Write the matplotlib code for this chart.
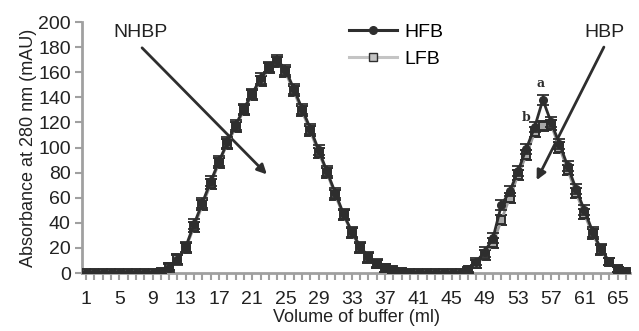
import matplotlib
matplotlib.use("Agg")
import matplotlib.pyplot as plt
from matplotlib.ticker import MultipleLocator, FixedLocator

plt.rcParams['font.family'] = ['Liberation Sans', 'DejaVu Sans']

# fraction number (1 ml each)
fractions = list(range(1, 67))

hfb = [0, 0, 0, 0, 0, 0, 0, 0, 0, 1,
       4, 10, 21, 39, 56, 73, 89, 104, 118, 131,
       143, 155, 164, 170, 162, 147, 131, 115, 98, 81,
       64, 47, 33, 21, 13, 8, 4, 2, 1, 0,
       0, 0, 0, 0, 0, 0, 3, 9, 17, 28,
       54, 65, 81, 99, 116, 138, 120, 103, 85, 67,
       50, 33, 19, 9, 3, 1]
lfb = [0, 0, 0, 0, 0, 0, 0, 0, 0, 1,
       5, 11, 20, 37, 54, 71, 88, 103, 116, 130,
       142, 153, 163, 168, 160, 145, 129, 113, 96, 80,
       62, 46, 32, 20, 12, 7, 4, 2, 1, 0,
       0, 0, 0, 0, 0, 0, 2, 7, 14, 24,
       42, 60, 78, 94, 112, 117, 118, 100, 82, 64,
       47, 31, 18, 9, 3, 1]
hfb_err = [1, 1, 1, 1, 1, 1, 1, 1, 1, 2,
           3, 4, 4, 4, 4, 4, 4, 4, 4, 4,
           4, 4, 4, 4, 4, 4, 4, 4, 4, 4,
           4, 4, 4, 4, 4, 3, 3, 2, 1, 1,
           1, 1, 1, 1, 1, 1, 2, 3, 4, 4,
           4, 4, 4, 4, 4, 4, 4, 4, 4, 4,
           4, 4, 4, 3, 2, 1]
lfb_err = hfb_err

xtick_labels = [str(v) for v in range(1, 67, 4)]

fig = plt.figure(figsize=(6.39, 3.31), dpi=100)
ax = fig.add_axes([0.1283, 0.1752, 0.986 - 0.1283, 0.9335 - 0.1752])

dark = '#2e2e2e'
light = '#9a9a9a'

ax.errorbar(fractions, lfb, yerr=lfb_err, color=light, lw=2,
            marker='s', ms=6, mfc='#a8a8a8', mec=dark, mew=1.4,
            ecolor=dark, elinewidth=1.3, capsize=4.5, capthick=1.3, zorder=3)
ax.errorbar(fractions, hfb, yerr=hfb_err, color=dark, lw=2,
            marker='o', ms=5.5, mfc=dark, mec=dark,
            ecolor=dark, elinewidth=1.3, capsize=4.5, capthick=1.3, zorder=4)

# legend handles without error bars
h1, = ax.plot([], [], color=dark, lw=2.2, marker='o', ms=5.5, mfc=dark, mec=dark, label='HFB')
h2, = ax.plot([], [], color='#c4c4c4', lw=2.2, marker='s', ms=5.5, mfc='#c4c4c4', mec=dark, label='LFB')
ax.legend(handles=[h1, h2], loc='upper left', bbox_to_anchor=(0.455, 1.065),
          frameon=False, fontsize=14, handlelength=2.5, handletextpad=0.35,
          labelspacing=0.5)

ax.set_xlim(0.5, 66.5)
ax.set_ylim(0, 200)
ax.xaxis.set_major_locator(FixedLocator(list(range(1, 67, 4))))
ax.set_xticklabels(xtick_labels)
ax.xaxis.set_minor_locator(MultipleLocator(1))
ax.yaxis.set_major_locator(MultipleLocator(20))

for side in ['top', 'right']:
    ax.spines[side].set_visible(False)
for side in ['left', 'bottom']:
    ax.spines[side].set_color('#a0a0a0')
    ax.spines[side].set_linewidth(2)
ax.tick_params(axis='both', which='both', color='#a0a0a0', width=1.5)
ax.tick_params(axis='x', which='major', length=5, pad=8, labelsize=14, labelcolor='#222222')
ax.tick_params(axis='x', which='minor', length=5)
ax.tick_params(axis='y', which='major', length=5, pad=3, labelsize=14, labelcolor='#222222')

ax.set_xlabel('Volume of buffer (ml)', fontsize=13, color='#222222', labelpad=1)
ax.set_ylabel('Absorbance at 280 nm (mAU)', fontsize=13, color='#222222', labelpad=1)

# peak annotations
ax.text(7.5, 192, 'NHBP', fontsize=14, ha='center', va='center', color='#222222')
ax.annotate('', xy=(23.0, 77), xytext=(7.5, 181),
            arrowprops=dict(arrowstyle='-|>', color=dark, lw=2, mutation_scale=14),
            annotation_clip=False)
ax.text(63.4, 192, 'HBP', fontsize=14, ha='center', va='center', color='#222222')
ax.annotate('', xy=(55.1, 72), xytext=(63.5, 182),
            arrowprops=dict(arrowstyle='-|>', color=dark, lw=2, mutation_scale=14),
            annotation_clip=False)
ax.text(55.7, 151, 'a', fontsize=9, fontweight='bold', family='DejaVu Serif',
        ha='center', va='center', color=dark)
ax.text(54.0, 124, 'b', fontsize=9, fontweight='bold', family='DejaVu Serif',
        ha='center', va='center', color=dark)

fig.savefig('out.png', dpi=100)
